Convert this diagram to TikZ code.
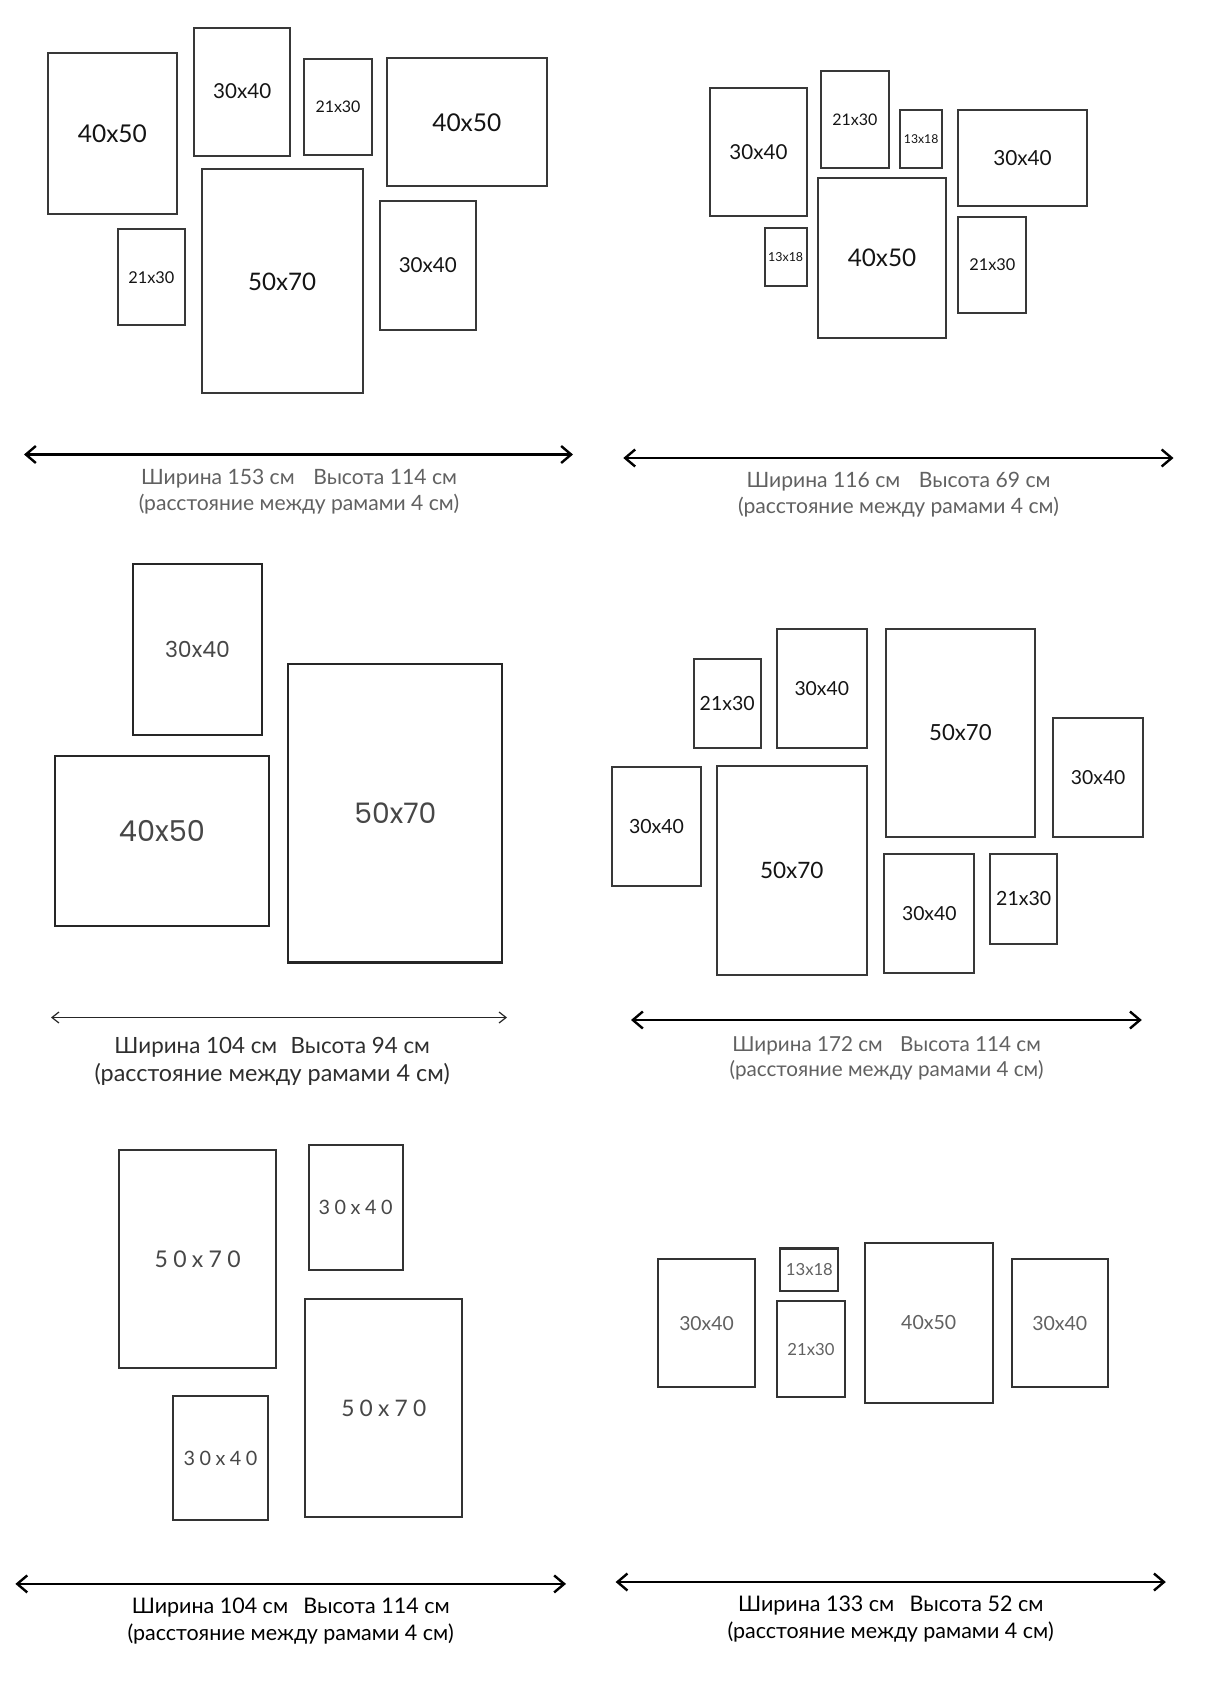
\documentclass[tikz,border=0pt]{standalone}
\usepackage{fontspec}
\usepackage{graphicx}
\setmainfont{Lato}
\newfontfamily\popf{Poppins}
\usetikzlibrary{arrows.meta}
\newlength\pxu \setlength\pxu{0.5pt}
\newdimen\natw
\newcommand\flab[2]{\resizebox{#1\pxu}{!}{#2}}
\newcommand\frmbox[7]{\node[#1, minimum width={(#5-#3)*0.5pt}, minimum height={(#6-#4)*0.5pt}] (#2) at ({(#3+#5)/2},{(#4+#6)/2}) {#7};}
\newcommand\capset[9]{%
  \pgfmathsetmacro\capsc{#7*0.5/\natwv}%
  \pgfmathsetmacro\capwa{#6*0.5/\capsc}%
  \node[captxt] (#2a) at (#3,#4) {\scalebox{\capsc}{#1\makebox[\capwa pt]{#8\hfill#9}}};
  \node[captxt] (#2b) at (#3,#5) {\scalebox{\capsc}{#1(расстояние между рамами 4 см)}};
}
\tikzset{
  fr/.style={draw=black!78, line width=1pt, inner sep=0pt, outer sep=0pt, text=black!92},
  frthree/.style={draw=black!85, line width=1.05pt, inner sep=0pt, outer sep=0pt, text=black!72, font=\popf},
  frfive/.style={draw=black!80, line width=1pt, inner sep=0pt, outer sep=0pt, text=black!72},
  frsix/.style={draw=black!80, line width=1.05pt, inner sep=0pt, outer sep=0pt, text=black!62},
  captxt/.style={inner sep=0pt, outer sep=0pt},
  arr/.style={line width=1.2pt, {Straight Barb[length=5pt,width=8.5pt]}-{Straight Barb[length=5pt,width=8.5pt]}},
  arrthin/.style={line width=0.6pt, black!85, {Straight Barb[length=3.5pt,width=5.5pt]}-{Straight Barb[length=3.5pt,width=5.5pt]}}
}
\begin{document}
\settowidth\natw{(расстояние между рамами 4 см)}%
\pgfmathsetmacro\natwv{\natw}%
\begin{tikzpicture}[x=0.5pt,y=-0.5pt]
\fill[white] (0,0) rectangle (1208,1708);
\useasboundingbox (0,0) rectangle (1208,1708);

% ---------- Panel 1 ----------
\frmbox{fr}{a1}{48.3}{53.4}{176.5}{213.5}{\flab{69}{40x50}}
\frmbox{fr}{a2}{194.0}{27.5}{290.4}{155.6}{\flab{58}{30x40}}
\frmbox{fr}{a3}{304.2}{59.2}{371.8}{155.3}{\flab{45}{21x30}}
\frmbox{fr}{a4}{386.5}{58.2}{547.1}{186.3}{\flab{69}{40x50}}
\frmbox{fr}{a5}{117.8}{229.3}{184.9}{325.4}{\flab{46}{21x30}}
\frmbox{fr}{a6}{201.9}{169.4}{362.5}{393.3}{\flab{68}{50x70}}
\frmbox{fr}{a7}{379.5}{201.4}{476.1}{329.5}{\flab{58}{30x40}}
\coordinate (p1l) at (24,454.5);
\coordinate (p1r) at (573,454.5);
\draw[arr] (p1l) -- (p1r);
\capset{\color{black!62}}{c1}{299}{478.7}{504.5}{315.8}{320.5}{Ширина 153 см}{Высота 114 см}

% ---------- Panel 2 ----------
\frmbox{fr}{b1}{710.2}{87.8}{806.7}{216.3}{\flab{58}{30x40}}
\frmbox{fr}{b2}{821.0}{71.3}{888.6}{167.7}{\flab{45}{21x30}}
\frmbox{fr}{b3}{900.1}{109.8}{942.2}{167.7}{\flab{34.5}{13x18}}
\frmbox{fr}{b4}{958.4}{109.8}{1086.6}{205.9}{\flab{58.5}{30x40}}
\frmbox{fr}{b5}{764.6}{228.0}{806.7}{285.8}{\flab{35}{13x18}}
\frmbox{fr}{b6}{817.9}{177.7}{946.1}{337.5}{\flab{68.5}{40x50}}
\frmbox{fr}{b7}{958.4}{216.6}{1026.4}{312.7}{\flab{46}{21x30}}
\coordinate (p2l) at (623.3,458);
\coordinate (p2r) at (1173.5,458);
\draw[arr] (p2l) -- (p2r);
\capset{\color{black!62}}{c2}{898.5}{482.1}{507.2}{303.9}{320.8}{Ширина 116 см}{Высота 69 см}

% ---------- Panel 3 ----------
\frmbox{frthree}{g1}{133.2}{563.9}{261.8}{735}{\flab{65}{30x40}}
\frmbox{frthree}{g2}{54.8}{755.7}{269.1}{926.4}{}
\node[inner sep=0pt, text=black!72, font=\popf] (g2t) at ([yshift=5pt]g2.center) {\flab{86}{40x50}};
\frmbox{frthree}{g3}{288.4}{663.6}{502.3}{962.5}{\flab{82}{50x70}}
\coordinate (p3l) at (51,1017.5);
\coordinate (p3r) at (507,1017.5);
\draw[arrthin] (p3l) -- (p3r);
\node[captxt, text=black!82] (c3a) at (272.2,1047.1) {\resizebox{315.4\pxu}{!}{Ширина 104 см\hspace{0.6em}Высота 94 см}};
\node[captxt, text=black!82] (c3b) at (272.2,1074.6) {\resizebox{355.2\pxu}{!}{(расстояние между рамами 4 см)}};

% ---------- Panel 4 ----------
\frmbox{fr}{d1}{693.6}{658.6}{760.8}{747.9}{\flab{55}{21x30}}
\frmbox{fr}{d2}{777.0}{628.9}{866.5}{747.9}{\flab{54.5}{30x40}}
\frmbox{fr}{d3}{886.0}{628.9}{1034.9}{837.1}{\flab{62.5}{50x70}}
\frmbox{fr}{d4}{1053.4}{718.2}{1143.0}{837.1}{\flab{54.5}{30x40}}
\frmbox{fr}{d5}{611.7}{767.1}{701.3}{886.1}{\flab{55}{30x40}}
\frmbox{fr}{d6}{717.1}{766.4}{866.5}{974.6}{\flab{63.5}{50x70}}
\frmbox{fr}{d7}{884.3}{854.3}{974.3}{973.2}{\flab{54.5}{30x40}}
\frmbox{fr}{d8}{990.1}{854.3}{1057.3}{943.6}{\flab{55}{21x30}}
\coordinate (p4l) at (631,1020);
\coordinate (p4r) at (1141.8,1020);
\draw[arr] (p4l) -- (p4r);
\capset{\color{black!62}}{c4}{886.6}{1045.4}{1070.4}{308.5}{313.9}{Ширина 172 см}{Высота 114 см}

% ---------- Panel 5 ----------
\frmbox{frfive}{e1}{119.3}{1149.6}{276.1}{1368.3}{\flab{86}{5\kern.23em0\kern.23em x\kern.23em7\kern.23em0}}
\frmbox{frfive}{e2}{308.5}{1145.4}{402.7}{1270.2}{\flab{74}{3\kern.23em0\kern.23em x\kern.23em4\kern.23em0}}
\frmbox{frfive}{e3}{173.4}{1395.9}{267.6}{1520.3}{\flab{74}{3\kern.23em0\kern.23em x\kern.23em4\kern.23em0}}
\frmbox{frfive}{e4}{305.4}{1298.9}{462.2}{1517.2}{\flab{85}{5\kern.23em0\kern.23em x\kern.23em7\kern.23em0}}
\coordinate (p5l) at (15.4,1583.9);
\coordinate (p5r) at (566,1583.9);
\draw[arr] (p5l) -- (p5r);
\capset{\color{black}}{c5}{290.7}{1608}{1634}{317.8}{326.3}{Ширина 104 см}{Высота 114 см}

% ---------- Panel 6 ----------
\frmbox{frsix}{f1}{658.4}{1259}{754.6}{1387.3}{\flab{54.5}{30x40}}
\frmbox{frsix}{f2}{780.4}{1248.5}{838.4}{1290.8}{\flab{47}{13x18}}
\frmbox{frsix}{f3}{777.0}{1301.2}{844.9}{1397.4}{\flab{47}{21x30}}
\frmbox{frsix}{f4}{864.6}{1243.1}{992.8}{1402.8}{\flab{55}{40x50}}
\frmbox{frsix}{f5}{1011.7}{1259}{1107.9}{1387.3}{\flab{55}{30x40}}
\coordinate (p6l) at (615.6,1582);
\coordinate (p6r) at (1165.8,1582);
\draw[arr] (p6l) -- (p6r);
\capset{\color{black}}{c6}{890.7}{1606}{1632}{305.4}{326.3}{Ширина 133 см}{Высота 52 см}
\end{tikzpicture}
\end{document}
